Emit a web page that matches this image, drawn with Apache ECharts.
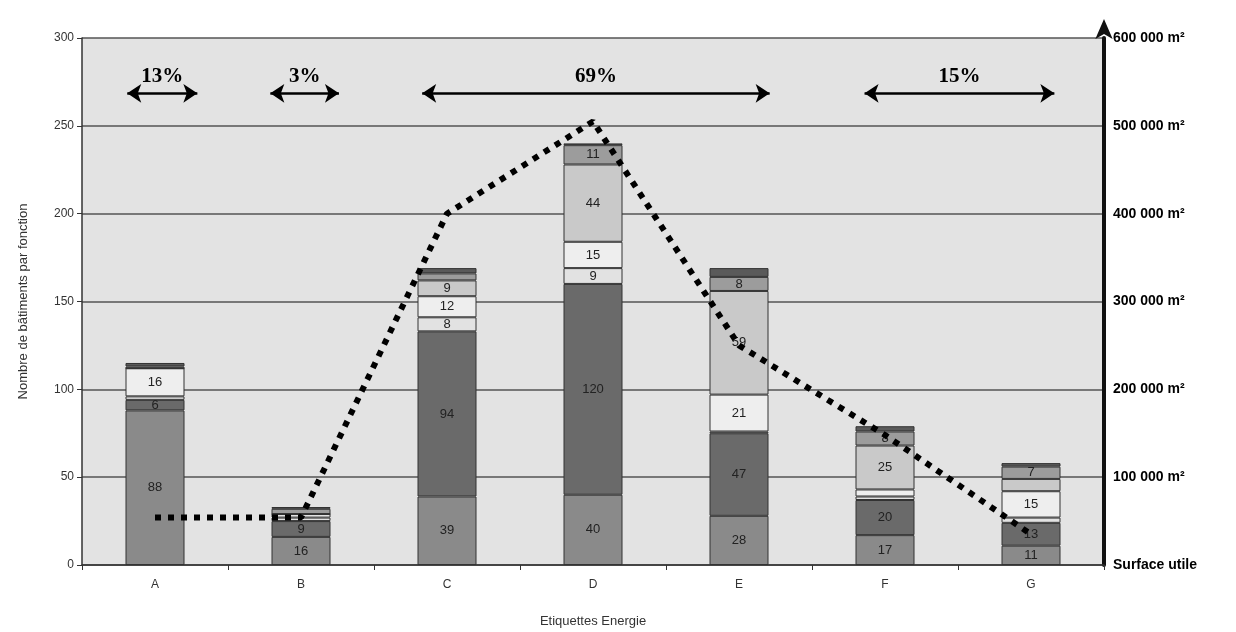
<!DOCTYPE html>
<html><head><meta charset="utf-8">
<script src="https://cdn.jsdelivr.net/npm/echarts@6/dist/echarts.min.js"></script>
<style>html,body{margin:0;padding:0;background:#fff}#c{width:1236px;height:632px}</style>
</head><body><div id="c"></div><script>
const categories = ['A','B','C','D','E','F','G'];
// building counts per function (stack order bottom -> top)
const s1 = [88,16,39,40,28,17,11];
const s2 = [6,9,94,120,47,20,13];
const s3 = [2,2,8,9,1,2,3];
const s4 = [16,2,12,15,21,4,15];
const s5 = [0,0,9,44,59,25,7];
const s6 = [1,3,4,11,8,8,7];
const s7 = [2,1,3,1,5,3,2];
// which segments carry a visible value label
const lab1 = [1,1,1,1,1,1,1];
const lab2 = [1,1,1,1,1,1,1];
const lab3 = [0,0,1,1,0,0,0];
const lab4 = [1,0,1,1,1,0,1];
const lab5 = [0,0,1,1,1,1,0];
const lab6 = [0,0,0,1,1,1,1];
const lab7 = [0,0,0,0,0,0,0];
// useful surface (m²) per label
const surface = [54000,54000,400000,505000,250000,148000,35000];
// share annotations (span in category units, text)
const shareText = ['13%','3%','69%','15%'];
const shareFrom = [-0.19,0.79,1.83,4.86];
const shareTo = [0.29,1.26,4.21,6.16];
const shareLevel = 268.5;

const stacks = [s1,s2,s3,s4,s5,s6,s7];
const masks = [lab1,lab2,lab3,lab4,lab5,lab6,lab7];
const colors = ['#8a8a8a','#6a6a6a','#e2e2e2','#eeeeee','#c9c9c9','#9c9c9c','#5a5a5a'];

const chart = echarts.init(document.getElementById('c'));
const FONT = '"Liberation Sans", Arial, sans-serif';

const barSeries = stacks.map((arr, i) => ({
  type: 'bar', stack: 'n', xAxisIndex: 0, yAxisIndex: 0,
  data: arr, barWidth: 59,
  itemStyle: { color: colors[i], borderColor: '#333', borderWidth: 1 },
  label: {
    show: true, position: 'inside', color: '#222', fontFamily: FONT, fontSize: 13,
    formatter: p => masks[i][p.dataIndex] ? String(p.value) : ''
  },
  emphasis: { disabled: true }
}));

const markData = shareText.map((t, i) => [
  { name: t, coord: [shareFrom[i], shareLevel] },
  { coord: [shareTo[i], shareLevel] }
]);

chart.setOption({
  animation: false,
  backgroundColor: '#fff',
  grid: { left: 82, right: 132, top: 38, bottom: 67, show: true, backgroundColor: '#e3e3e3', borderWidth: 0,
    outerBoundsMode: 'none', containLabel: false },
  xAxis: [
    {
      type: 'category', data: categories,
      axisLine: { lineStyle: { color: '#333', width: 1.5 } },
      axisTick: { show: true, length: 5, lineStyle: { color: '#333' } },
      axisLabel: { color: '#333', fontFamily: FONT, fontSize: 12, margin: 14 },
      name: 'Etiquettes Energie', nameLocation: 'middle', nameGap: 50,
      nameTextStyle: { color: '#333', fontFamily: FONT, fontSize: 13 }
    },
    { type: 'value', min: -0.5, max: 6.5, show: false, axisLine: { onZero: false } }
  ],
  yAxis: [
    {
      type: 'value', min: 0, max: 300, interval: 50,
      axisLine: { show: true, onZero: false, lineStyle: { color: '#333', width: 1.5 } },
      axisTick: { show: true, length: 5, lineStyle: { color: '#333' } },
      axisLabel: { color: '#333', fontFamily: FONT, fontSize: 12, margin: 8 },
      splitLine: { show: true, lineStyle: { color: '#555', width: 1.5 } },
      name: 'Nombre de bâtiments par fonction', nameLocation: 'middle', nameGap: 52,
      nameTextStyle: { color: '#333', fontFamily: FONT, fontSize: 13 }
    },
    {
      type: 'value', min: 0, max: 600000, interval: 100000, position: 'right',
      axisLine: { show: true, onZero: false, symbol: ['none', 'arrow'], symbolSize: [13, 20], symbolOffset: [0, 19],
        lineStyle: { color: '#111', width: 4 } },
      axisTick: { show: false },
      splitLine: { show: false },
      axisLabel: {
        color: '#000', fontFamily: FONT, fontSize: 14, fontWeight: 'bold', margin: 9,
        formatter: v => v === 0 ? 'Surface utile' : (v / 1000) + ' 000 m²'
      }
    }
  ],
  series: barSeries.concat([
    {
      type: 'line', xAxisIndex: 0, yAxisIndex: 1, data: surface,
      symbol: 'none', z: 10,
      lineStyle: { color: '#000', width: 6, type: [6, 7], cap: 'butt' },
      emphasis: { disabled: true }
    },
    {
      type: 'line', xAxisIndex: 1, yAxisIndex: 0, data: [], z: 11,
      markLine: {
        silent: true, symbol: ['arrow', 'arrow'], symbolSize: 14,
        lineStyle: { color: '#000', width: 2.5, type: 'solid' },
        label: {
          show: true, position: 'insideMiddleTop', distance: 6, formatter: '{b}',
          color: '#000', fontFamily: '"Liberation Serif", "Times New Roman", serif',
          fontSize: 21, fontWeight: 'bold'
        },
        data: markData
      }
    }
  ])
});
</script></body></html>
